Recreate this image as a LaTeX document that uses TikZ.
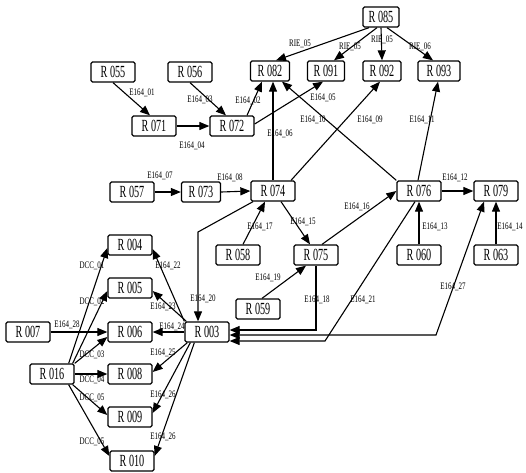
\documentclass[tikz,border=0pt]{standalone}
\usepackage{fontspec}
\setmainfont{Liberation Serif}
\newfontfamily\cfont[FakeStretch=0.6]{Liberation Serif}
\newfontfamily\lfont[FakeStretch=0.7]{Liberation Serif}
\usetikzlibrary{arrows.meta}
\begin{document}
\begin{tikzpicture}[x=1pt,y=-1pt,
 box/.style={draw, line width=1.3pt, rounded corners=1.5pt, minimum width=44pt, minimum height=20pt, inner sep=0pt, font=\cfont\fontsize{17}{17}\selectfont},
 lbl/.style={inner sep=0pt, font=\lfont\fontsize{10}{10}\selectfont},
 arr/.style={line width=1.1pt, -{Triangle[length=10pt,width=8pt]}},
 darr/.style={line width=1.1pt, {Triangle[length=10pt,width=8pt]}-{Triangle[length=10pt,width=8pt]}}]
\useasboundingbox (0,0) rectangle (526,472);
% nodes
\node[box, minimum width=36pt] (r085) at (381,17) {R 085};
\node[box, minimum width=39pt] (r082) at (270,71) {R 082};
\node[box, minimum width=37pt] (r091) at (326,71) {R 091};
\node[box, minimum width=38pt] (r092) at (382,71) {R 092};
\node[box, minimum width=42pt] (r093) at (439,71) {R 093};
\node[box] (r055) at (113,72) {R 055};
\node[box] (r056) at (190,72) {R 056};
\node[box] (r071) at (154,126) {R 071};
\node[box] (r072) at (232,126) {R 072};
\node[box] (r057) at (132,192) {R 057};
\node[box, minimum width=39pt] (r073) at (201,192) {R 073};
\node[box] (r074) at (273,191) {R 074};
\node[box] (r076) at (419,191) {R 076};
\node[box] (r079) at (496,191) {R 079};
\node[box] (r058) at (238,255) {R 058};
\node[box] (r075) at (316,255) {R 075};
\node[box] (r060) at (419,255) {R 060};
\node[box] (r063) at (496,255) {R 063};
\node[box] (r059) at (258,309) {R 059};
\node[box] (r004) at (130,245) {R 004};
\node[box] (r005) at (130,288) {R 005};
\node[box] (r006) at (130,332) {R 006};
\node[box] (r003) at (207,332) {R 003};
\node[box] (r007) at (28,332) {R 007};
\node[box] (r016) at (52,374) {R 016};
\node[box] (r008) at (130,374) {R 008};
\node[box] (r009) at (130,417) {R 009};
\node[box] (r010) at (132,461) {R 010};
% connectors
\draw[arr] ([xshift=-12pt]r085.south) -- ([xshift=6pt]r082.north);
\draw[arr] ([xshift=-4pt]r085.south) -- ([xshift=8pt]r091.north);
\draw[arr] (r085.south) -- (r092.north);
\draw[arr] ([xshift=6pt]r085.south) -- ([xshift=-6pt]r093.north);
\draw[arr] (r055.south) -- ([xshift=-4pt]r071.north);
\draw[arr] (r056.south) -- ([xshift=-6pt]r072.north);
\draw[arr] (r071.east) -- (r072.west);
\draw[arr] ([xshift=15pt]r072.north) -- ([xshift=-8pt]r082.south);
\draw[arr] ([yshift=2pt]r072.east) -- ([xshift=-3pt]r091.south);
\draw[arr] (r074.north) -- ([xshift=3pt]r082.south);
\draw[arr] ([xshift=18pt]r074.north) -- ([xshift=-2pt]r092.south);
\draw[arr] (r076.north west) -- ([xshift=12pt]r082.south);
\draw[arr] ([xshift=-1pt]r076.north) -- ([xshift=-1pt]r093.south);
\draw[arr] (r057.east) -- (r073.west);
\draw[arr] (r073.east) -- (r074.west);
\draw[arr] ([xshift=8pt]r074.south) -- ([xshift=-6pt]r075.north);
\draw[arr] ([xshift=5pt]r058.north) -- ([xshift=-8pt]r074.south);
\draw[arr] ([xshift=6pt]r075.north) -- (r076.west);
\draw[arr] (r060.north) -- (r076.south);
\draw[arr] (r063.north) -- (r079.south);
\draw[arr] (r076.east) -- (r079.west);
\draw[arr] ([xshift=4pt]r059.north) -- ([xshift=-10pt]r075.south);
\draw[arr] (r075.south) |- ([yshift=2pt]r003.east);
\coordinate (c21) at (325,341);
\draw[arr] ([xshift=-4pt]r076.south) -- (c21) -- ([yshift=-9pt]r003.east);
\coordinate (c27) at (436,335);
\draw[darr] ([xshift=-12pt]r079.south) -- (c27) -- ([yshift=-3pt]r003.east);
\coordinate (c20) at (198,232);
\draw[arr] ([xshift=-20pt]r074.south) -- (c20) -- ([xshift=-9pt]r003.north);
\draw[arr] (r003.north west) -- ([yshift=-4pt]r004.east);
\draw[arr] ([xshift=2pt]r003.north west) -- ([yshift=-3pt]r005.east);
\draw[arr] (r003.west) -- (r006.east);
\draw[arr] ([xshift=3pt]r003.south west) -- ([yshift=2pt]r008.east);
\draw[arr] ([xshift=6pt]r003.south west) -- ([yshift=4pt]r009.east);
\draw[arr] ([xshift=10pt]r003.south west) -- ([yshift=5pt]r010.east);
\draw[arr] ([xshift=-6pt]r016.north east) -- ([yshift=-3pt]r004.west);
\draw[arr] ([xshift=-2pt]r016.north east) -- ([yshift=-3pt]r005.west);
\draw[arr] (r016.north east) -- ([yshift=-5pt]r006.west);
\draw[arr] (r016.east) -- (r008.west);
\draw[arr] ([xshift=-2pt]r016.south east) -- ([yshift=2pt]r009.west);
\draw[arr] ([xshift=-6pt]r016.south east) -- ([yshift=5pt]r010.west);
\draw[arr] (r007.east) -- (r006.west);
% labels
\node[lbl] (l01) at (300,44) {RIE\_05};
\node[lbl] (l02) at (350,47) {RIE\_05};
\node[lbl] (l03) at (382,40) {RIE\_05};
\node[lbl] (l04) at (420,47) {RIE\_06};
\node[lbl] (l05) at (142,93) {E164\_01};
\node[lbl] (l06) at (200,100) {E164\_03};
\node[lbl] (l07) at (248,101) {E164\_02};
\node[lbl] (l08) at (192,146) {E164\_04};
\node[lbl] (l09) at (323,98) {E164\_05};
\node[lbl] (l10) at (313,120) {E164\_10};
\node[lbl] (l11) at (280,134) {E164\_06};
\node[lbl] (l12) at (370,120) {E164\_09};
\node[lbl] (l13) at (422,120) {E164\_11};
\node[lbl] (l14) at (160,176) {E164\_07};
\node[lbl] (l15) at (230,178) {E164\_08};
\node[lbl] (l16) at (455,178) {E164\_12};
\node[lbl] (l17) at (260,227) {E164\_17};
\node[lbl] (l18) at (303,222) {E164\_15};
\node[lbl] (l19) at (357,207) {E164\_16};
\node[lbl] (l20) at (435,227) {E164\_13};
\node[lbl] (l21) at (510,227) {E164\_14};
\node[lbl] (l22) at (268,278) {E164\_19};
\node[lbl] (l23) at (317,300) {E164\_18};
\node[lbl] (l24) at (363,300) {E164\_21};
\node[lbl] (l25) at (453,287) {E164\_27};
\node[lbl] (l26) at (203,299) {E164\_20};
\node[lbl] (l27) at (168,266) {E164\_22};
\node[lbl] (l28) at (163,307) {E164\_23};
\node[lbl] (l29) at (92,266) {DCC\_01};
\node[lbl] (l30) at (92,302) {DCC\_02};
\node[lbl] (l31) at (67,325) {E164\_28};
\node[lbl] (l32) at (172,327) {E164\_24};
\node[lbl] (l33) at (92,355) {DCC\_03};
\node[lbl] (l34) at (92,380) {DCC\_04};
\node[lbl] (l35) at (163,353) {E164\_25};
\node[lbl] (l36) at (92,398) {DCC\_05};
\node[lbl] (l37) at (163,395) {E164\_26};
\node[lbl] (l38) at (92,442) {DCC\_05};
\node[lbl] (l39) at (163,437) {E164\_26};
\end{tikzpicture}
\end{document}
